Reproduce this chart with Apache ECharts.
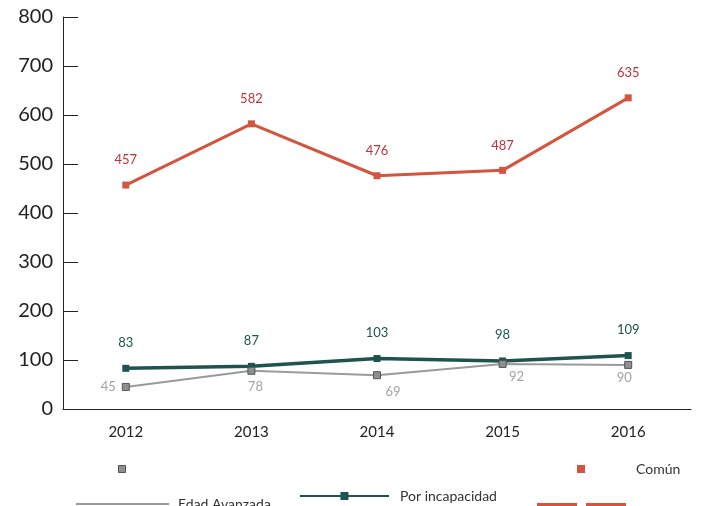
<!DOCTYPE html>
<html><head><meta charset="utf-8">
<script src="https://cdn.jsdelivr.net/npm/echarts@6/dist/echarts.min.js"></script>
<style>html,body{margin:0;padding:0;background:#fff}#c{width:701px;height:506px}</style>
</head><body><div id="c"></div>
<script>
const years = ['2012','2013','2014','2015','2016'];
const comun = [457, 582, 476, 487, 635];
const incapacidad = [83, 87, 103, 98, 109];
const edad = [45, 78, 69, 92, 90];
const yTicks = [0,100,200,300,400,500,600,700,800];

const RED='#d4553f', RED_T='#c0323a', GREEN='#1f5350', GREY='#9a9a9a';
const FONT='Lato';

const grayLabelStyle = [
  {position:'left', offset:[0,0]},
  {position:'bottom', offset:[4,0]},
  {position:'bottom', offset:[16,0]},
  {position:'bottom', offset:[14,-4]},
  {position:'bottom', offset:[-4,-4]}
];
const edadData = edad.map((v,i)=>({value:v,label:grayLabelStyle[i]}));

const chart = echarts.init(document.getElementById('c'), null, {renderer:'canvas'});
chart.setOption({
  animation:false,
  textStyle:{fontFamily:FONT},
  grid:{left:63,right:10,top:17,bottom:97,containLabel:false},
  xAxis:{type:'category',data:years,boundaryGap:true,
    axisLine:{lineStyle:{color:'#222',width:1}},
    axisTick:{inside:true,length:11,lineStyle:{color:'#222'}},
    axisLabel:{color:'#222',fontSize:15,margin:16,fontFamily:FONT}},
  yAxis:{type:'value',min:yTicks[0],max:yTicks[yTicks.length-1],interval:100,
    axisLine:{show:true,lineStyle:{color:'#222',width:1}},
    axisTick:{show:true,inside:true,length:15,lineStyle:{color:'#222'}},
    splitLine:{show:false},
    axisLabel:{color:'#222',fontSize:20,margin:10,fontFamily:FONT}},
  legend:[
    {data:[{name:'Edad Avanzada',icon:'rect'}],left:118,top:465,padding:0,itemWidth:7,itemHeight:7,formatter:()=>'',
     itemStyle:{color:'#8f8f8f',borderColor:'#555',borderWidth:1},selectedMode:false},
    {data:[{name:'Edad Avanzada',icon:'rect'}],left:76,top:497,padding:0,itemWidth:93,itemHeight:2,
     itemStyle:{color:GREY,borderWidth:0},
     textStyle:{color:'#333',fontSize:14,padding:[0,0,0,4]},selectedMode:false},
    {data:['Por incapacidad'],left:299,top:489,padding:0,itemWidth:89,itemHeight:10,
     textStyle:{color:'#333',fontSize:14,padding:[0,0,8,6]},selectedMode:false},
    {data:[{name:'Común',icon:'rect'}],left:577,top:462,padding:0,itemWidth:8,itemHeight:8,
     itemStyle:{color:RED,borderWidth:0},
     textStyle:{color:'#333',fontSize:14,padding:[0,0,0,46]},selectedMode:false},
    {data:[{name:'Común',icon:'path://M0,0H40V4H0Z M49,0H89V4H49Z'}],left:537,top:503,padding:0,itemWidth:89,itemHeight:4,
     itemStyle:{color:RED,borderWidth:0},formatter:()=>'',selectedMode:false}
  ],
  series:[
    {name:'Común',type:'line',data:comun,symbol:'rect',symbolSize:7,
     lineStyle:{color:RED,width:3},itemStyle:{color:RED},
     label:{show:true,position:'top',distance:15,color:RED_T,fontSize:13,fontFamily:FONT}},
    {name:'Por incapacidad',type:'line',data:incapacidad,symbol:'rect',symbolSize:7,
     lineStyle:{color:GREEN,width:3.5},itemStyle:{color:GREEN},
     label:{show:true,position:'top',distance:16,color:GREEN,fontSize:13,fontFamily:FONT}},
    {name:'Edad Avanzada',type:'line',data:edadData,symbol:'rect',symbolSize:7,
     lineStyle:{color:GREY,width:2},itemStyle:{color:'#8f8f8f',borderColor:'#555',borderWidth:1},
     label:{show:true,position:'bottom',distance:6,color:'#a3a3a3',fontSize:13,fontFamily:FONT}}
  ]
});
</script></body></html>
